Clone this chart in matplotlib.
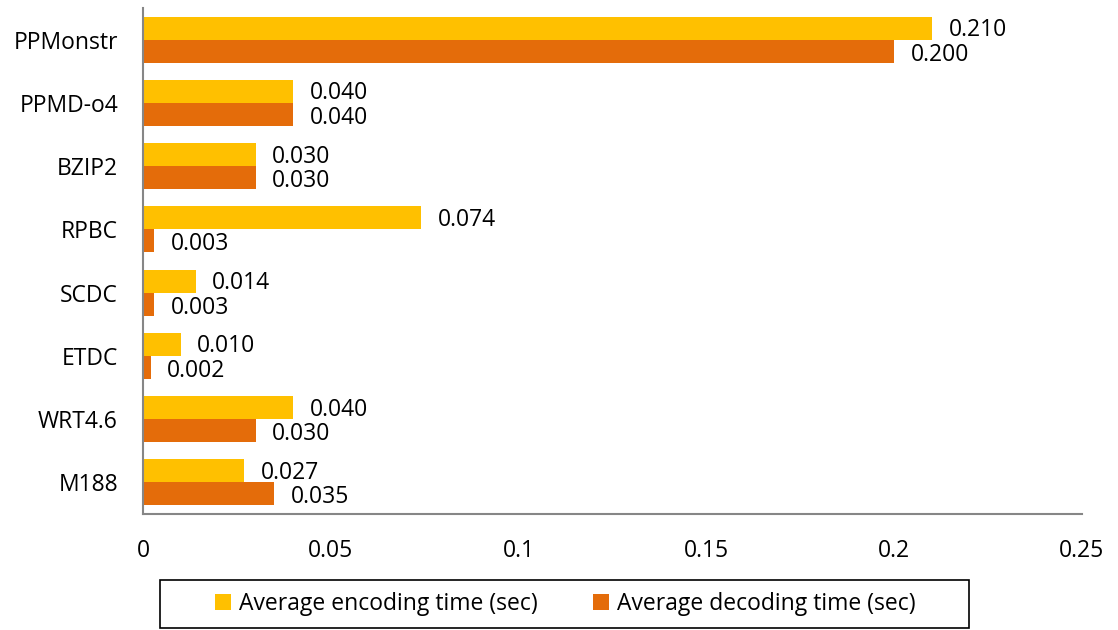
import matplotlib
matplotlib.use("Agg")
import matplotlib.pyplot as plt
from matplotlib.patches import Rectangle
import numpy as np

categories = ["PPMonstr", "PPMD-o4", "BZIP2", "RPBC", "SCDC", "ETDC", "WRT4.6", "M188"]
encoding = [0.210, 0.040, 0.030, 0.074, 0.014, 0.010, 0.040, 0.027]
decoding = [0.200, 0.040, 0.030, 0.003, 0.003, 0.002, 0.030, 0.035]
xticks = [0, 0.05, 0.1, 0.15, 0.2, 0.25]
xtick_labels = ["0", "0.05", "0.1", "0.15", "0.2", "0.25"]

plt.rcParams["font.family"] = ["Open Sans", "DejaVu Sans"]
FS = 16.5
W, H = 1118, 630

fig = plt.figure(figsize=(W / 100, H / 100), dpi=100)
ax = fig.add_axes([143 / W, 1 - 514 / H, (1082 - 143) / W, (514 - 8) / H])

enc_color = "#FFC000"
dec_color = "#E46C0A"
h = 0.365
y = np.arange(len(categories))

ax.barh(y - h / 2, encoding, height=h, color=enc_color, label="Average encoding time (sec)")
ax.barh(y + h / 2, decoding, height=h, color=dec_color, label="Average decoding time (sec)")

for yi, e, d in zip(y, encoding, decoding):
    ax.annotate(f"{e:.3f}", (e, yi - h / 2), xytext=(12, -1.5), textcoords="offset points",
                va="center", ha="left", fontsize=FS)
    ax.annotate(f"{d:.3f}", (d, yi + h / 2), xytext=(12, -2.5), textcoords="offset points",
                va="center", ha="left", fontsize=FS)

ax.set_xlim(0, 0.25)
ax.set_ylim(len(categories) - 0.5, -0.5)
ax.set_yticks(y)
ax.set_yticklabels(categories, fontsize=FS)
ax.set_xticks(xticks)
ax.set_xticklabels(xtick_labels, fontsize=FS)
ax.tick_params(axis="both", length=0)
ax.tick_params(axis="x", pad=18)
ax.tick_params(axis="y", pad=18)

for side in ["top", "right"]:
    ax.spines[side].set_visible(False)
for side in ["left", "bottom"]:
    ax.spines[side].set_color("#868686")
    ax.spines[side].set_linewidth(1.5)

# legend entries, with a wide rectangular frame drawn around them
fig.legend(loc="center", bbox_to_anchor=(565 / W, 1 - 604 / H), ncol=2,
           fontsize=FS, frameon=False,
           handlelength=0.7, handleheight=0.7, handletextpad=0.35,
           columnspacing=2.4, borderpad=0, borderaxespad=0)
fig.patches.append(Rectangle((160 / W, 1 - 628 / H), (969 - 160) / W, (628 - 580) / H,
                             transform=fig.transFigure, fill=False,
                             edgecolor="black", linewidth=1.2))

fig.savefig("out.png", dpi=100, facecolor="white")
